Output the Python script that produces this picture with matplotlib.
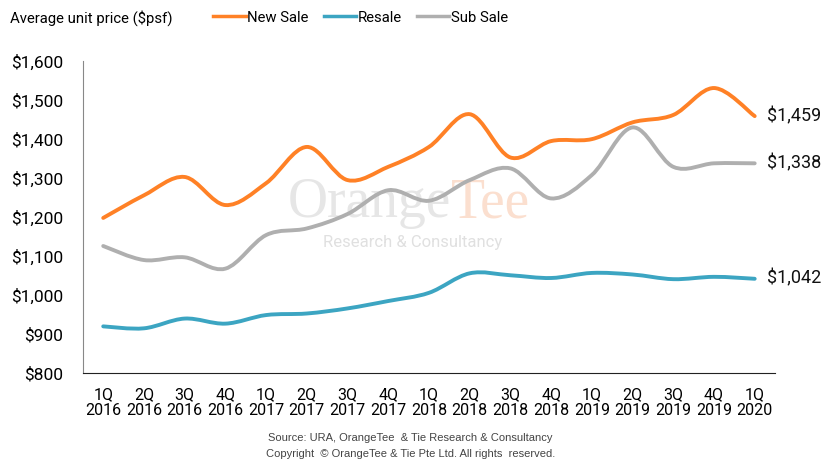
import matplotlib
matplotlib.use("Agg")
import matplotlib.pyplot as plt
from matplotlib.path import Path
from matplotlib.patches import PathPatch
from matplotlib.lines import Line2D

quarters = ["1Q\n2016", "2Q\n2016", "3Q\n2016", "4Q\n2016",
            "1Q\n2017", "2Q\n2017", "3Q\n2017", "4Q\n2017",
            "1Q\n2018", "2Q\n2018", "3Q\n2018", "4Q\n2018",
            "1Q\n2019", "2Q\n2019", "3Q\n2019", "4Q\n2019",
            "1Q\n2020"]
new_sale = [1198, 1256, 1303, 1231, 1287, 1380, 1295, 1329,
            1380, 1464, 1353, 1395, 1400, 1443, 1462, 1531, 1459]
resale = [920, 915, 940, 927, 949, 953, 966, 985,
          1006, 1056, 1051, 1044, 1057, 1053, 1041, 1047, 1042]
sub_sale = [1126, 1090, 1097, 1068, 1154, 1171, 1208, 1269,
            1242, 1295, 1325, 1248, 1308, 1430, 1329, 1338, 1338]
y_ticks = [800, 900, 1000, 1100, 1200, 1300, 1400, 1500, 1600]

plt.rcParams['font.family'] = ['Roboto', 'DejaVu Sans']


def smooth_path(xs, ys):
    # Catmull-Rom style bezier through the points (like Excel smoothed lines)
    verts = [(xs[0], ys[0])]
    codes = [Path.MOVETO]
    n = len(xs)
    for i in range(n - 1):
        x0, y0 = xs[max(i - 1, 0)], ys[max(i - 1, 0)]
        x1, y1 = xs[i], ys[i]
        x2, y2 = xs[i + 1], ys[i + 1]
        x3, y3 = xs[min(i + 2, n - 1)], ys[min(i + 2, n - 1)]
        c1 = (x1 + (x2 - x0) / 6, y1 + (y2 - y0) / 6)
        c2 = (x2 - (x3 - x1) / 6, y2 - (y3 - y1) / 6)
        verts += [c1, c2, (x2, y2)]
        codes += [Path.CURVE4] * 3
    return Path(verts, codes)


fig = plt.figure(figsize=(8.37, 4.63), dpi=100)
ax = fig.add_axes([0.099, 0.194, 0.827, 0.674])

x = list(range(len(quarters)))
series = [("New Sale", new_sale, "#FF8126"),
          ("Resale", resale, "#3CA5C2"),
          ("Sub Sale", sub_sale, "#AFAFAF")]
for name, vals, col in series:
    patch = PathPatch(smooth_path(x, vals), facecolor="none", edgecolor=col,
                      lw=2.8, capstyle="round", joinstyle="round", zorder=3)
    ax.add_patch(patch)
    ax.text(x[-1] + 0.3, vals[-1], "${:,}".format(vals[-1]), fontsize=13,
            va="center", ha="left", color="#111111")

# watermark
ax.text(8.53, 1200, "Orange", fontsize=40, family="Liberation Serif",
        color="#E6E6E6", ha="right", va="baseline", zorder=1)
ax.text(8.53, 1200, "Tee", fontsize=40, family="Liberation Serif",
        color="#FBDFCF", ha="left", va="baseline", zorder=1)
ax.text(7.6, 1136, "Research & Consultancy", fontsize=12,
        color="#E0E0E0", ha="center", va="center", zorder=1)

ax.set_xlim(-0.5, 16.5)
ax.set_ylim(800, 1600)
ax.set_yticks(y_ticks)
ax.set_yticklabels(["${:,}".format(v) for v in y_ticks], fontsize=12.5)
ax.set_xticks(x)
ax.set_xticklabels(quarters, fontsize=11.5, linespacing=1.1)
ax.tick_params(length=0, pad=10)
ax.tick_params(axis="y", pad=14)
ax.spines["top"].set_visible(False)
ax.spines["right"].set_visible(False)
ax.spines["left"].set_color("#888888")
ax.spines["bottom"].set_color("#222222")

fig.text(0.012, 0.962, "Average unit price ($psf)", fontsize=10.7,
         va="center", ha="left")
handles = [Line2D([], [], color=c, lw=2.5) for _, _, c in series]
fig.legend(handles, [s[0] for s in series], loc="center left",
           bbox_to_anchor=(0.244, 0.962), ncol=3, frameon=False,
           fontsize=10.7, handlelength=2.2, handletextpad=0.1,
           columnspacing=1.0, borderaxespad=0.2)

fig.text(0.49, 0.048, "Source: URA, OrangeTee  & Tie Research & Consultancy",
         fontsize=8, color="#444444", ha="center", family="Liberation Sans")
fig.text(0.49, 0.013, "Copyright  \u00a9 OrangeTee & Tie Pte Ltd. All rights  reserved.",
         fontsize=8, color="#444444", ha="center", family="Liberation Sans")

fig.savefig("out.png", dpi=100)
